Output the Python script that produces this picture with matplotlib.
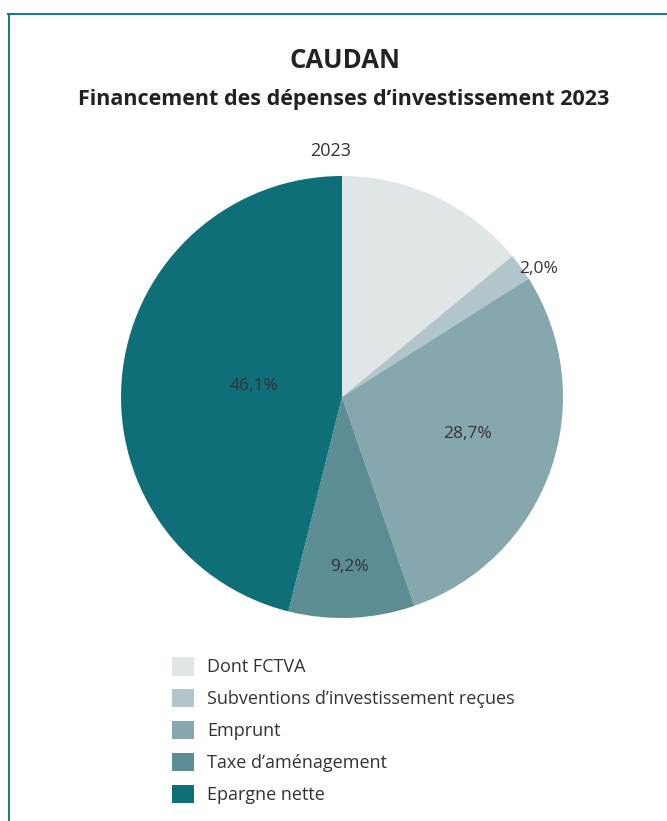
#!/usr/bin/env python3
import numpy as np
import matplotlib
matplotlib.use('Agg')
import matplotlib.pyplot as plt
from matplotlib.patches import Patch
from matplotlib.lines import Line2D

categories = ['Dont FCTVA', 'Subventions d\u2019investissement re\u00e7ues', 'Emprunt',
              'Taxe d\u2019am\u00e9nagement', 'Epargne nette']
values = [14.0, 2.0, 28.7, 9.2, 46.1]
show_label = [False, True, True, True, True]

colors = ['#e0e5e8', '#b2c5ca', '#87a7ae', '#5c8c94', '#0e6f78']
label_dist = [0.6, 1.06, 0.59, 0.77, 0.40]
label_turn = [0, -3, 3, 0, 0]   # degrees, small nudges of label angle
text_color = '#333333'
border_color = '#1f7a82'

plt.rcParams['font.family'] = ['Open Sans', 'DejaVu Sans']

W, H = 667, 821
fig = plt.figure(figsize=(W / 100, H / 100), dpi=100)

# frame: top and left lines only
fig.add_artist(Line2D([8 / W, 1], [1 - 14 / H, 1 - 14 / H], color=border_color, lw=1.5))
fig.add_artist(Line2D([9 / W, 9 / W], [0, 1 - 14 / H], color=border_color, lw=1.5))

fig.text(345 / W, 1 - 60 / H, 'CAUDAN', ha='center', va='center',
         fontsize=18.5, fontweight='bold', color='#222222')
fig.text(344 / W, 1 - 100 / H, 'Financement des d\u00e9penses d\u2019investissement 2023',
         ha='center', va='center', fontsize=15.5, fontweight='bold', color='#222222')
fig.text(331 / W, 1 - 151 / H, '2023', ha='center', va='center', fontsize=13,
         color=text_color)

# pie axes: center (342, 397) px, radius 221 px
r_px = 221
half = 1.25 * r_px
ax = fig.add_axes([(342 - half) / W, (H - 397 - half) / H, 2 * half / W, 2 * half / H])
wedges, _ = ax.pie(values, colors=colors, startangle=90, counterclock=False, radius=1,
                   wedgeprops=dict(linewidth=0))
ax.set_xlim(-1.25, 1.25)
ax.set_ylim(-1.25, 1.25)
ax.set_aspect('equal')
ax.axis('off')

for w, v, show, d, t in zip(wedges, values, show_label, label_dist, label_turn):
    if not show:
        continue
    ang = np.deg2rad((w.theta1 + w.theta2) / 2 + t)
    txt = ('%.1f%%' % v).replace('.', ',')
    ax.text(d * np.cos(ang), d * np.sin(ang), txt, ha='center', va='center',
            fontsize=12.5, color=text_color)

handles = [Patch(facecolor=c, edgecolor='none', label=l) for c, l in zip(colors, categories)]
fig.legend(handles=handles, loc='upper left', bbox_to_anchor=(172 / W, 1 - 657 / H),
           frameon=False, fontsize=13, handlelength=1.2, handleheight=1.2,
           handletextpad=0.75, labelspacing=0.7, borderpad=0, borderaxespad=0,
           labelcolor=text_color)

fig.savefig('out.png', dpi=100, facecolor='white')
